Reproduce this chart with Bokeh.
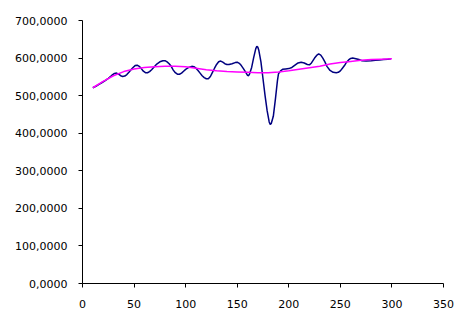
from bokeh.plotting import figure
from bokeh.models import Range1d, FixedTicker, CustomJSTickFormatter
from bokeh.embed import file_html
from bokeh.resources import INLINE

series_x = [10, 13, 16, 19, 22, 25, 28, 31, 33, 35, 37, 39, 41, 43, 45, 47, 49, 51, 53,
            55, 57, 59, 61, 63, 65, 67, 69, 72, 75, 78, 80, 82, 84, 86, 88, 90, 92, 94,
            96, 98, 100, 103, 106, 108, 110, 112, 114, 116, 118, 120, 122, 124, 126,
            128, 130, 132, 134, 136, 138, 140, 142, 145, 148, 150, 152, 154, 156, 158,
            160, 161, 162, 164, 166, 168, 169, 170, 171, 173, 175, 177, 179, 181, 182,
            183, 185, 187, 189, 190, 192, 194, 197, 200, 203, 206, 209, 212, 215, 218,
            220, 222, 225, 227, 229, 231, 233, 235, 237, 240, 243, 246, 248, 250, 252,
            254, 256, 258, 260, 262, 265, 268, 271, 275, 280, 284, 288, 292, 296, 299]
series_y = [521, 525, 530, 535, 540, 546, 553, 559, 560, 557, 553, 551, 552, 556, 562,
            569, 575, 580, 581, 578, 572, 565, 561, 561, 564, 569, 575, 584, 590, 593,
            593, 590, 585, 578, 568, 561, 557, 557, 560, 565, 570, 575, 578, 577, 573,
            567, 560, 553, 548, 545, 545, 551, 562, 573, 583, 590, 592, 589, 585, 583,
            583, 585, 588, 589, 586, 580, 572, 563, 554, 553, 558, 575, 602, 625, 631,
            629, 620, 590, 545, 500, 460, 430, 423, 426, 445, 490, 540, 558, 566, 570,
            571, 572, 575, 581, 587, 589, 587, 583, 582, 587, 600, 607, 611, 608, 600,
            590, 578, 567, 562, 561, 562, 566, 573, 580, 589, 595, 599, 600, 598, 596,
            593, 592, 593, 594, 595, 596, 597, 598]

# Magenta trend line
trend_x = [10, 20, 30, 40, 50, 60, 70, 80, 90, 100, 110, 120, 130, 140, 150, 160,
           170, 180, 190, 200, 210, 220, 230, 240, 250, 260, 270, 280, 290, 300]
trend_y = [521, 538, 553, 564, 571, 575, 577, 578, 578, 577, 573, 569, 566, 564, 563,
           562, 561, 561, 563, 566, 570, 574, 578, 584, 588, 591, 594, 596, 597, 598]

x_ticks = [0, 50, 100, 150, 200, 250, 300, 350]
y_ticks = [0, 100, 200, 300, 400, 500, 600, 700]

p = figure(width=457, height=314, output_backend="svg", toolbar_location=None,
           x_range=Range1d(0, 350), y_range=Range1d(0, 700),
           min_border_left=82, min_border_right=14, min_border_top=20, min_border_bottom=31)
p.outline_line_color = None
p.xgrid.visible = False
p.ygrid.visible = False
p.background_fill_color = "white"
p.border_fill_color = "white"

p.line(series_x, series_y, line_color="#000080", line_width=1.5)
p.line(trend_x, trend_y, line_color="#FF00FF", line_width=1.5)

p.xaxis.ticker = FixedTicker(ticks=x_ticks)
p.yaxis.ticker = FixedTicker(ticks=y_ticks)
p.yaxis.formatter = CustomJSTickFormatter(code="return tick.toFixed(4).replace('.', ',');")

for ax in (p.xaxis[0], p.yaxis[0]):
    ax.axis_line_color = "black"
    ax.axis_line_width = 1
    ax.major_tick_line_color = "black"
    ax.major_tick_in = 0
    ax.major_tick_out = 4
    ax.minor_tick_line_color = None
    ax.major_label_text_font = "DejaVu Sans"
    ax.major_label_text_font_size = "11px"
    ax.major_label_text_color = "black"
p.xaxis.major_label_standoff = 12
p.yaxis.major_label_standoff = 11

open("out.html", "w").write(file_html(p, INLINE))
